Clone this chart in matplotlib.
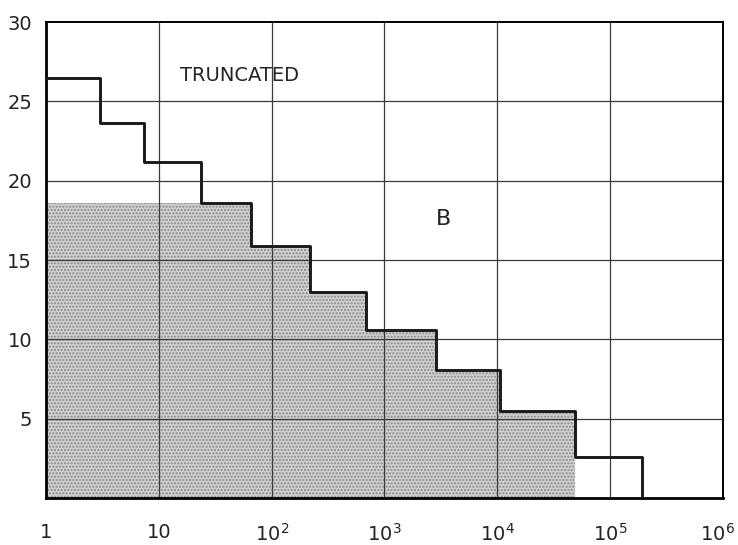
import numpy as np
import matplotlib
matplotlib.use('Agg')
import matplotlib.pyplot as plt
import matplotlib.transforms as mtransforms
from matplotlib.ticker import FixedLocator, NullLocator

# step edges (x, log scale) and the level of each step
edges = [1, 3.0, 7.4, 23.7, 65, 219, 682, 2870, 10600, 48300, 191000]
levels = [26.5, 23.65, 21.2, 18.6, 15.9, 13.0, 10.6, 8.1, 5.5, 2.6]
cap = 18.6          # shaded part is cut at this level
shade_end = 9       # number of steps that are shaded

xticks = [1, 10, 1e2, 1e3, 1e4, 1e5, 1e6]
xlabels = ['1', '10', r'$\mathregular{10^2}$', r'$\mathregular{10^3}$',
           r'$\mathregular{10^4}$', r'$\mathregular{10^5}$', r'$\mathregular{10^6}$']
yticks = [5, 10, 15, 20, 25, 30]

plt.rcParams['font.family'] = ['DejaVu Sans']
plt.rcParams['mathtext.fontset'] = 'dejavusans'

fig = plt.figure(figsize=(7.38, 5.45), dpi=100)
ax = fig.add_axes([0.0623, 0.0862, 0.9174, 0.8734])
ax.set_xscale('log')
ax.set_xlim(1, 1e6)
ax.set_ylim(0, 30)

# shaded (stippled) region
fx = edges[:shade_end + 1]
fy = list(np.minimum(levels[:shade_end], cap)) + [min(levels[shade_end - 1], cap)]
ax.fill_between(fx, 0, fy, step='post', facecolor='#d0d0d0', hatch='.....',
                edgecolor='#888888', linewidth=0, zorder=1)

# grid
for xv in xticks[1:-1]:
    ax.axvline(xv, color='#3a3a3a', lw=0.9, zorder=2)
for yv in yticks[:-1]:
    ax.axhline(yv, color='#3a3a3a', lw=0.9, zorder=2)

# step outline
sx = edges + [edges[-1]]
sy = levels + [levels[-1], 0]
ax.step(sx, sy, where='post', color='#1a1a1a', lw=2.1, zorder=3)

ax.xaxis.set_major_locator(FixedLocator(xticks))
ax.xaxis.set_minor_locator(NullLocator())
ax.set_xticklabels(xlabels)
ax.set_yticks(yticks)
ax.tick_params(length=0, labelsize=14, labelcolor='#222222')
ax.tick_params(axis='x', pad=18)
ax.tick_params(axis='y', pad=10)

# last x label sits at the right edge, pull it in a little
xl = ax.get_xticklabels()
xl[-1].set_transform(xl[-1].get_transform() +
                     mtransforms.ScaledTranslation(-6 / 100, 0, fig.dpi_scale_trans))

for s in ['left', 'bottom']:
    ax.spines[s].set_linewidth(2.0)
for s in ['top', 'right']:
    ax.spines[s].set_linewidth(1.4)

ax.text(52, 26.6, 'TRUNCATED', fontsize=14, ha='center', va='center', color='#222222')
ax.text(3300, 17.6, 'B', fontsize=16, ha='center', va='center', color='#222222')

fig.savefig('out.png', dpi=100, facecolor='white')
